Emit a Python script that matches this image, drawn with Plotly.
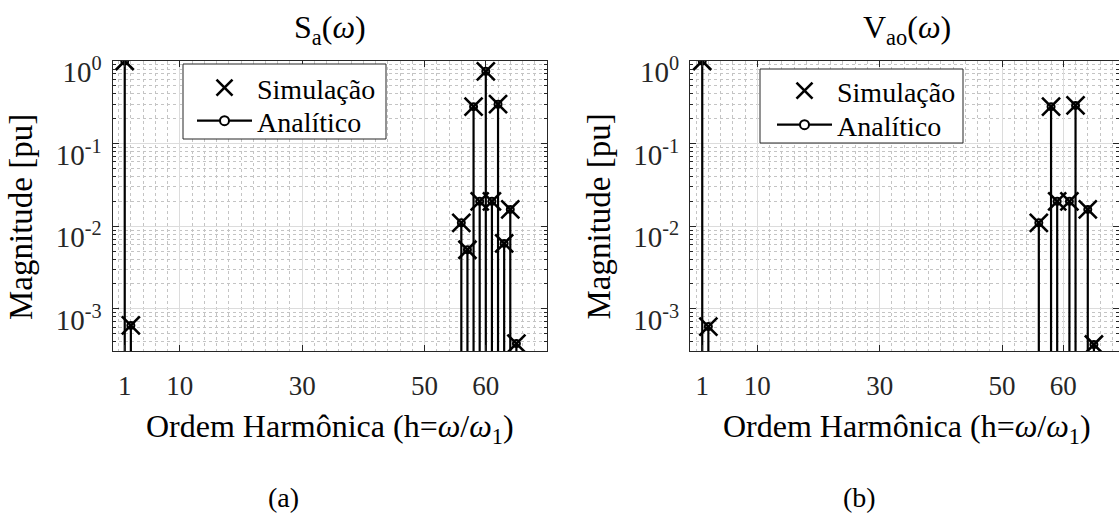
import plotly.graph_objects as go

# ---------------- data ----------------
h_sa = [1, 2, 56, 57, 58, 59, 60, 61, 62, 63, 64, 65]
sa_sim = [1.0, 6.3e-4, 0.011, 0.0052, 0.28, 0.020, 0.75, 0.020, 0.30, 0.0062, 0.016, 3.8e-4]
sa_ana = [1.0, 6.3e-4, 0.011, 0.0052, 0.28, 0.020, 0.75, 0.020, 0.30, 0.0062, 0.016, 3.8e-4]

h_vao = [1, 2, 56, 58, 59, 61, 62, 64, 65]
vao_sim = [1.0, 6.1e-4, 0.011, 0.28, 0.020, 0.020, 0.29, 0.016, 3.7e-4]
vao_ana = [1.0, 6.1e-4, 0.011, 0.28, 0.020, 0.020, 0.29, 0.016, 3.7e-4]

x_ticks = [1, 10, 30, 50, 60]
y_tick_exp = [-3, -2, -1, 0]

titles = ["S<sub>a</sub>(<i>ω</i>)", "V<sub>ao</sub>(<i>ω</i>)"]
panel_labels = ["(a)", "(b)"]
xlabel = "Ordem Harmônica (h=<i>ω</i>/<i>ω</i><sub>1</sub>)"
ylabel = "Magnitude [pu]"
leg_sim = "Simulação"
leg_ana = "Analítico"

# ---------------- layout geometry (pixels) ----------------
W, H = 1119, 515
FONT = "Liberation Serif"
ymin_log, ymax_log = -3.51, 0.0
stem_base = 10 ** (ymin_log - 1)

L_left, L_right = 112.5, 547.0
R_left = 690.0
top_px, bot_px = 61.0, 351.0
xr_left = [-1, 70]
px_per_unit = (L_right - L_left) / (xr_left[1] - xr_left[0])
xr_right = [-1, -1 + (W - R_left) / px_per_unit]

# legend boxes (x0, x1, y0, y1) and row centres, in pixels
leg_boxes = [(183, 386, 64, 139), (760, 963, 69, 143)]
leg_rows = [(88, 121), (91, 125)]
leg_x = [192, 772]


def pxx(x):
    return x / W


def pyy(y):
    return 1 - y / H


fig = go.Figure()


def add_panel(h, sim, ana, xa, ya, leg_a, leg_b):
    sx, sy = [], []
    for hh, v in zip(h, ana):
        sx += [hh, hh, None]
        sy += [stem_base, v, None]
    fig.add_trace(go.Scatter(x=sx, y=sy, mode="lines", line=dict(color="black", width=2.2),
                             xaxis=xa, yaxis=ya, showlegend=False, hoverinfo="skip"))
    fig.add_trace(go.Scatter(x=h, y=sim, mode="markers", name=leg_sim,
                             marker=dict(symbol="x-thin", size=18, color="black",
                                         line=dict(color="black", width=2.6)),
                             xaxis=xa, yaxis=ya, legend=leg_a))
    fig.add_trace(go.Scatter(x=h, y=ana, mode="markers", showlegend=False,
                             marker=dict(symbol="circle-open", size=7, color="black",
                                         line=dict(color="black", width=2)),
                             xaxis=xa, yaxis=ya))
    fig.add_trace(go.Scatter(x=[None], y=[None], mode="lines+markers", name=leg_ana,
                             line=dict(color="black", width=2.2),
                             marker=dict(symbol="circle", size=9, color="white",
                                         line=dict(color="black", width=2)),
                             xaxis=xa, yaxis=ya, legend=leg_b))


add_panel(h_sa, sa_sim, sa_ana, "x", "y", "legend", "legend2")
add_panel(h_vao, vao_sim, vao_ana, "x2", "y2", "legend3", "legend4")

minor_y = [k * 10 ** e for e in range(-4, 1) for k in range(2, 10)]
minor_x = list(range(0, 71, 2))

axis_common = dict(showline=True, linecolor="#262626", linewidth=1, mirror="ticks",
                   ticks="inside", tickcolor="#262626", zeroline=False,
                   gridcolor="#dcdcdc", gridwidth=1, automargin=False)

xaxis_common = dict(axis_common, tickvals=x_ticks, ticktext=[str(t) for t in x_ticks],
                    ticklen=6, ticklabelstandoff=11,
                    tickfont=dict(family=FONT, size=27, color="#262626"),
                    minor=dict(tickvals=minor_x, ticks="", showgrid=True,
                               gridcolor="#c4c4c4", griddash="dot", gridwidth=1))
yaxis_common = dict(axis_common, type="log", range=[ymin_log, ymax_log],
                    tickvals=[10 ** e for e in y_tick_exp],
                    ticktext=["10<sup>%d</sup>" % e for e in y_tick_exp],
                    ticklen=6, ticklabelstandoff=4, ticklabelshift=11,
                    tickfont=dict(family=FONT, size=29, color="#262626"),
                    minor=dict(tickvals=minor_y, ticks="inside", ticklen=3,
                               tickcolor="#262626", showgrid=True,
                               gridcolor="#c4c4c4", griddash="dot", gridwidth=1))

leg_common = dict(xanchor="left", yanchor="middle", bgcolor="rgba(0,0,0,0)",
                  borderwidth=0, font=dict(family=FONT, size=28, color="black"),
                  itemwidth=55, tracegroupgap=0)

legends = {}
names = ["legend", "legend2", "legend3", "legend4"]
k = 0
for lx, rows in zip(leg_x, leg_rows):
    for ry in rows:
        legends[names[k]] = dict(leg_common, x=pxx(lx), y=pyy(ry))
        k += 1

fig.update_layout(
    width=W, height=H, autosize=False, paper_bgcolor="white", plot_bgcolor="white",
    margin=dict(l=0, r=0, t=0, b=0, pad=0, autoexpand=False),
    font=dict(family=FONT, color="black"),
    xaxis=dict(xaxis_common, domain=[pxx(L_left), pxx(L_right)], range=xr_left, anchor="y"),
    yaxis=dict(yaxis_common, domain=[pyy(bot_px), pyy(top_px)], anchor="x"),
    xaxis2=dict(xaxis_common, domain=[pxx(R_left), 1.0], range=xr_right, anchor="y2"),
    yaxis2=dict(yaxis_common, domain=[pyy(bot_px), pyy(top_px)], anchor="x2"),
    **legends,
)

shapes = []
for (x0, x1, y0, y1) in leg_boxes:
    shapes.append(dict(type="rect", xref="paper", yref="paper",
                       x0=pxx(x0), x1=pxx(x1), y0=pyy(y1), y1=pyy(y0),
                       fillcolor="white", line=dict(color="#262626", width=1),
                       layer="above"))
fig.update_layout(shapes=shapes)

centers = [(L_left + L_right) / 2, R_left + (L_right - L_left) / 2]
ann = []
for c, t in zip(centers, titles):
    ann.append(dict(text=t, x=pxx(c), y=pyy(30), xref="paper", yref="paper",
                    xanchor="center", yanchor="middle", showarrow=False,
                    font=dict(family=FONT, size=32, color="black")))
    ann.append(dict(text=xlabel, x=pxx(c), y=pyy(428), xref="paper", yref="paper",
                    xanchor="center", yanchor="middle", showarrow=False,
                    font=dict(family=FONT, size=32, color="black")))
for xc, pl in zip([283, 859], panel_labels):
    ann.append(dict(text=pl, x=pxx(xc), y=pyy(497), xref="paper", yref="paper",
                    xanchor="center", yanchor="middle", showarrow=False,
                    font=dict(family=FONT, size=28, color="black")))
for xc in [21, 21 + (R_left - L_left)]:
    ann.append(dict(text=ylabel, x=pxx(xc), y=pyy(217), xref="paper", yref="paper",
                    xanchor="center", yanchor="middle", showarrow=False, textangle=-90,
                    font=dict(family=FONT, size=33, color="black")))
fig.update_layout(annotations=ann)

fig.write_html("out.html", config={"responsive": False, "displayModeBar": False},
               post_script="document.body.style.margin='0';document.body.style.overflow='hidden';")
